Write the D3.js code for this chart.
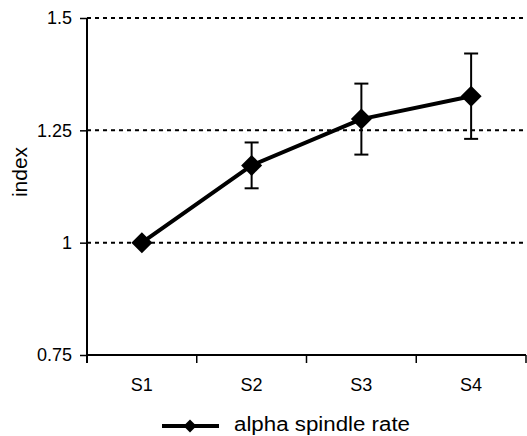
<!DOCTYPE html>
<html>
<head>
<meta charset="utf-8">
<script src="https://cdn.jsdelivr.net/npm/d3@7"></script>
<style>
  html, body { margin: 0; padding: 0; background: #fff; }
  svg { display: block; font-family: "Liberation Sans", Arial, sans-serif; }
</style>
</head>
<body>
<svg id="chart" width="527" height="436"></svg>
<script>
// Sessions and mean alpha spindle rate index with error bar half-widths
const sessions = ["S1", "S2", "S3", "S4"];
const indexValues = [1.0, 1.172, 1.275, 1.326];
const errorValues = [0, 0.051, 0.079, 0.095];
const yTicks = [0.75, 1, 1.25, 1.5];
const yTickLabels = ["0.75", "1", "1.25", "1.5"];
const gridValues = [1, 1.25, 1.5];
const seriesName = "alpha spindle rate";
const yLabel = "index";

const svg = d3.select("#chart");
const plotLeft = 87, plotRight = 526, plotTop = 18, plotBottom = 355;

const x = d3.scaleBand().domain(sessions).range([plotLeft, plotRight]).paddingInner(0).paddingOuter(0);
const y = d3.scaleLinear().domain([0.75, 1.5]).range([plotBottom, plotTop]);
const cx = d => x(d) + x.bandwidth() / 2;

// dashed horizontal gridlines
svg.append("g").selectAll("line").data(gridValues).join("line")
  .attr("x1", plotLeft).attr("x2", plotRight)
  .attr("y1", d => y(d)).attr("y2", d => y(d))
  .attr("stroke", "#000").attr("stroke-width", 2)
  .attr("stroke-dasharray", "4,4");

// y axis
const yAxis = d3.axisLeft(y).tickValues(yTicks)
  .tickFormat((d, i) => yTickLabels[i]).tickSize(7).tickPadding(8);
const gy = svg.append("g").attr("transform", `translate(${plotLeft},0)`).call(yAxis);
gy.select(".domain").remove();
gy.selectAll(".tick line").attr("stroke-width", 1.5);
gy.selectAll("text").attr("font-size", 18).attr("fill", "#000")
  .attr("font-family", "Liberation Sans, Arial, sans-serif");
svg.append("line").attr("x1", plotLeft).attr("x2", plotLeft)
  .attr("y1", plotTop).attr("y2", plotBottom + 8)
  .attr("stroke", "#000").attr("stroke-width", 2);

// x axis with ticks at category boundaries
svg.append("line").attr("x1", plotLeft).attr("x2", plotRight)
  .attr("y1", plotBottom).attr("y2", plotBottom)
  .attr("stroke", "#000").attr("stroke-width", 2);
const boundaries = sessions.map(s => x(s)).concat([x(sessions[sessions.length - 1]) + x.bandwidth()]);
svg.append("g").selectAll("line").data(boundaries.slice(1)).join("line")
  .attr("x1", d => d).attr("x2", d => d)
  .attr("y1", plotBottom).attr("y2", plotBottom + 8)
  .attr("stroke", "#000").attr("stroke-width", 1.5);
svg.append("g").selectAll("text").data(sessions).join("text")
  .attr("x", d => cx(d)).attr("y", plotBottom + 36)
  .attr("text-anchor", "middle").attr("font-size", 18)
  .text(d => d);

// y axis title
svg.append("text")
  .attr("transform", `translate(27,172) rotate(-90)`)
  .attr("text-anchor", "middle").attr("font-size", 21)
  .text(yLabel);

const data = sessions.map((s, i) => ({ s, v: indexValues[i], e: errorValues[i] }));

// error bars
const eb = svg.append("g").selectAll("g").data(data.filter(d => d.e > 0)).join("g");
eb.append("line")
  .attr("x1", d => cx(d.s)).attr("x2", d => cx(d.s))
  .attr("y1", d => y(d.v + d.e)).attr("y2", d => y(d.v - d.e))
  .attr("stroke", "#000").attr("stroke-width", 2);
eb.selectAll("line.cap").data(d => [d.v + d.e, d.v - d.e].map(val => ({ s: d.s, val })))
  .join("line").attr("class", "cap")
  .attr("x1", d => cx(d.s) - 7).attr("x2", d => cx(d.s) + 7)
  .attr("y1", d => y(d.val)).attr("y2", d => y(d.val))
  .attr("stroke", "#000").attr("stroke-width", 2);

// series line
const line = d3.line().x(d => cx(d.s)).y(d => y(d.v));
svg.append("path").datum(data).attr("d", line)
  .attr("fill", "none").attr("stroke", "#000").attr("stroke-width", 4)
  .attr("stroke-linejoin", "round");

// diamond markers
const diamond = r => `M0,${-r}L${r},0L0,${r}L${-r},0Z`;
svg.append("g").selectAll("path").data(data).join("path")
  .attr("transform", d => `translate(${cx(d.s)},${y(d.v)})`)
  .attr("d", diamond(10.5)).attr("fill", "#000");

// legend
const lg = svg.append("g").attr("transform", "translate(0,426)");
lg.append("line").attr("x1", 162).attr("x2", 219).attr("y1", 0).attr("y2", 0)
  .attr("stroke", "#000").attr("stroke-width", 4);
lg.append("path").attr("transform", "translate(190,0)").attr("d", diamond(6.5)).attr("fill", "#000");
lg.append("text").attr("x", 234).attr("y", 5)
  .attr("font-size", 19.5).attr("textLength", 176).attr("lengthAdjust", "spacingAndGlyphs")
  .text(seriesName);
</script>
</body>
</html>
